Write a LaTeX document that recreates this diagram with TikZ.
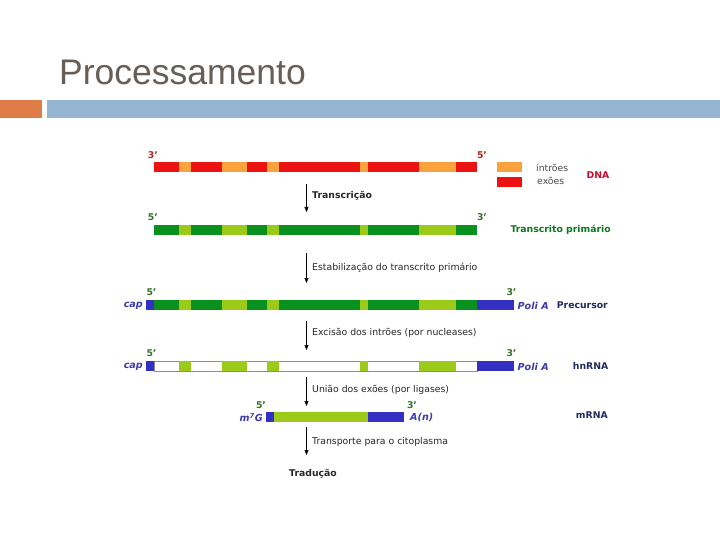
\documentclass[tikz,border=0pt]{standalone}
\usepackage{fontspec}
\setmainfont{DejaVu Sans}
\newfontfamily\titlefont{Liberation Sans}
\usetikzlibrary{arrows.meta}

\definecolor{exonred}{RGB}{236,18,18}
\definecolor{intronorange}{RGB}{250,162,62}
\definecolor{exongreen}{RGB}{8,145,30}
\definecolor{introngreen}{RGB}{155,202,25}
\definecolor{tailblue}{RGB}{52,48,196}
\definecolor{modblue}{RGB}{60,58,175}
\definecolor{rownavy}{RGB}{32,42,92}
\definecolor{primegreen}{RGB}{52,112,40}
\definecolor{primered}{RGB}{175,38,28}
\definecolor{dnared}{RGB}{205,10,45}
\definecolor{titlegray}{RGB}{103,94,88}
\definecolor{accentorange}{RGB}{224,124,72}
\definecolor{accentblue}{RGB}{148,182,210}

\tikzset{procarrow/.style = {-{Triangle[width=4pt,length=5pt]}, line width=0.6pt}}
\tikzset{steptext/.style = {anchor=west, inner sep=0pt, font=\fontsize{9.3}{11}\selectfont, text=black!85}}
\tikzset{primelabel/.style = {inner sep=0pt, font=\fontsize{9.3}{11}\selectfont\bfseries}}
\tikzset{modlabel/.style = {inner sep=0pt, text=modblue, font=\fontsize{9.6}{11}\selectfont\bfseries\itshape}}
\tikzset{rowlabel/.style = {anchor=east, inner sep=0pt, font=\fontsize{9.3}{11}\selectfont\bfseries}}

\begin{document}
\begin{tikzpicture}[x=1pt, y=-1pt]
  \useasboundingbox (0,0) rectangle (720,540);
  \fill[white] (0,0) rectangle (720,540);

  % title and bar
  \node[anchor=base west, inner sep=0pt, text=titlegray, font=\titlefont\fontsize{35.5}{40}\selectfont] (title) at (59,85) {Processamento};
  \fill[accentorange] (0,100) rectangle (42,118);
  \fill[accentblue] (47,100) rectangle (720,118);

  % DNA
  \foreach \a/\b/\c in {154/179/exonred, 179/191/intronorange, 191/222/exonred, 222/247/intronorange,
      247/267/exonred, 267/279/intronorange, 279/360/exonred, 360/368/intronorange,
      368/419/exonred, 419/456/intronorange, 456/477/exonred}
    \fill[\c] (\a,162) rectangle (\b,172);
  \node[primelabel, text=primered] (dna3) at (153,155.5) {3’};
  \node[primelabel, text=primered] (dna5) at (482,155.5) {5’};
  \fill[intronorange] (497,162) rectangle (522,172);
  \fill[exonred] (497,177) rectangle (522,187);
  \node[steptext, text=black!70] (intlab) at (536,167.5) {íntrões};
  \node[steptext, text=black!70] (exlab) at (537,181) {exões};
  \node[rowlabel, text=dnared] (dnalab) at (609.5,175) {DNA};

  % transcrito primario and precursor
  \foreach \y in {225,300}
    \foreach \a/\b/\c in {154/179/exongreen, 179/191/introngreen, 191/222/exongreen, 222/247/introngreen,
        247/267/exongreen, 267/279/introngreen, 279/360/exongreen, 360/368/introngreen,
        368/419/exongreen, 419/456/introngreen, 456/477/exongreen}
      \fill[\c] (\a,\y) rectangle (\b,\y+10);
  \node[primelabel, text=primegreen] (tp5) at (153,217) {5’};
  \node[primelabel, text=primegreen] (tp3) at (482,217) {3’};
  \node[rowlabel, text=exongreen!85!black] (tplab) at (611,229.5) {Transcrito primário};

  \fill[tailblue] (146,300) rectangle (154,310);
  \fill[tailblue] (477,300) rectangle (514,310);
  \node[primelabel, text=primegreen] (pr5) at (151.5,292) {5’};
  \node[primelabel, text=primegreen] (pr3) at (511.5,292) {3’};
  \node[modlabel, anchor=east] (prcap) at (143,305.5) {cap};
  \node[modlabel, anchor=west] (prpoli) at (517.5,305.5) {Poli A};
  \node[rowlabel, text=rownavy] (prlab) at (608,305) {Precursor};

  % hnRNA
  \draw[black!45, line width=0.6pt, fill=white] (154,361) rectangle (477,371);
  \foreach \a/\b in {179/191, 222/247, 267/279, 360/368, 419/456}
    \fill[introngreen] (\a,361) rectangle (\b,371);
  \fill[tailblue] (146,361) rectangle (154,371);
  \fill[tailblue] (477,361) rectangle (514,371);
  \node[primelabel, text=primegreen] (hn5) at (151.5,353.5) {5’};
  \node[primelabel, text=primegreen] (hn3) at (511.5,353.5) {3’};
  \node[modlabel, anchor=east] (hncap) at (143,366.5) {cap};
  \node[modlabel, anchor=west] (hnpoli) at (517.5,366.5) {Poli A};
  \node[rowlabel, text=rownavy] (hnlab) at (608.5,366) {hnRNA};

  % mRNA
  \fill[tailblue] (266,412) rectangle (274,422);
  \fill[introngreen] (274,412) rectangle (368,422);
  \fill[tailblue] (368,412) rectangle (404,422);
  \node[primelabel, text=primegreen] (m5) at (261,405) {5’};
  \node[primelabel, text=primegreen] (m3) at (412,405) {3’};
  \node[modlabel, anchor=east] (mcap) at (263,417.5) {m\textsuperscript{7}G};
  \node[modlabel, anchor=west] (mtail) at (410,417.5) {A(n)};
  \node[rowlabel, text=rownavy] (mlab) at (608,415) {mRNA};

  % steps
  \foreach \i/\ys/\ye in {1/184/212, 2/253/283, 3/321/350, 4/377/406, 5/427/455} {
    \coordinate (arr\i s) at (306.5,\ys);
    \coordinate (arr\i e) at (306.5,\ye);
    \draw[procarrow] (arr\i s) -- (arr\i e);
  }
  \node[steptext, font=\fontsize{9.3}{11}\selectfont\bfseries] (st1) at (312,195.5) {Transcrição};
  \node[steptext] (st2) at (312,267.5) {Estabilização do transcrito primário};
  \node[steptext] (st3) at (312,333) {Excisão dos intrões (por nucleases)};
  \node[steptext] (st4) at (312,390) {União dos exões (por ligases)};
  \node[steptext] (st5) at (312,441.5) {Transporte para o citoplasma};
  \node[steptext, anchor=center, font=\fontsize{9.3}{11}\selectfont\bfseries] (trad) at (313,474) {Tradução};
\end{tikzpicture}
\end{document}
